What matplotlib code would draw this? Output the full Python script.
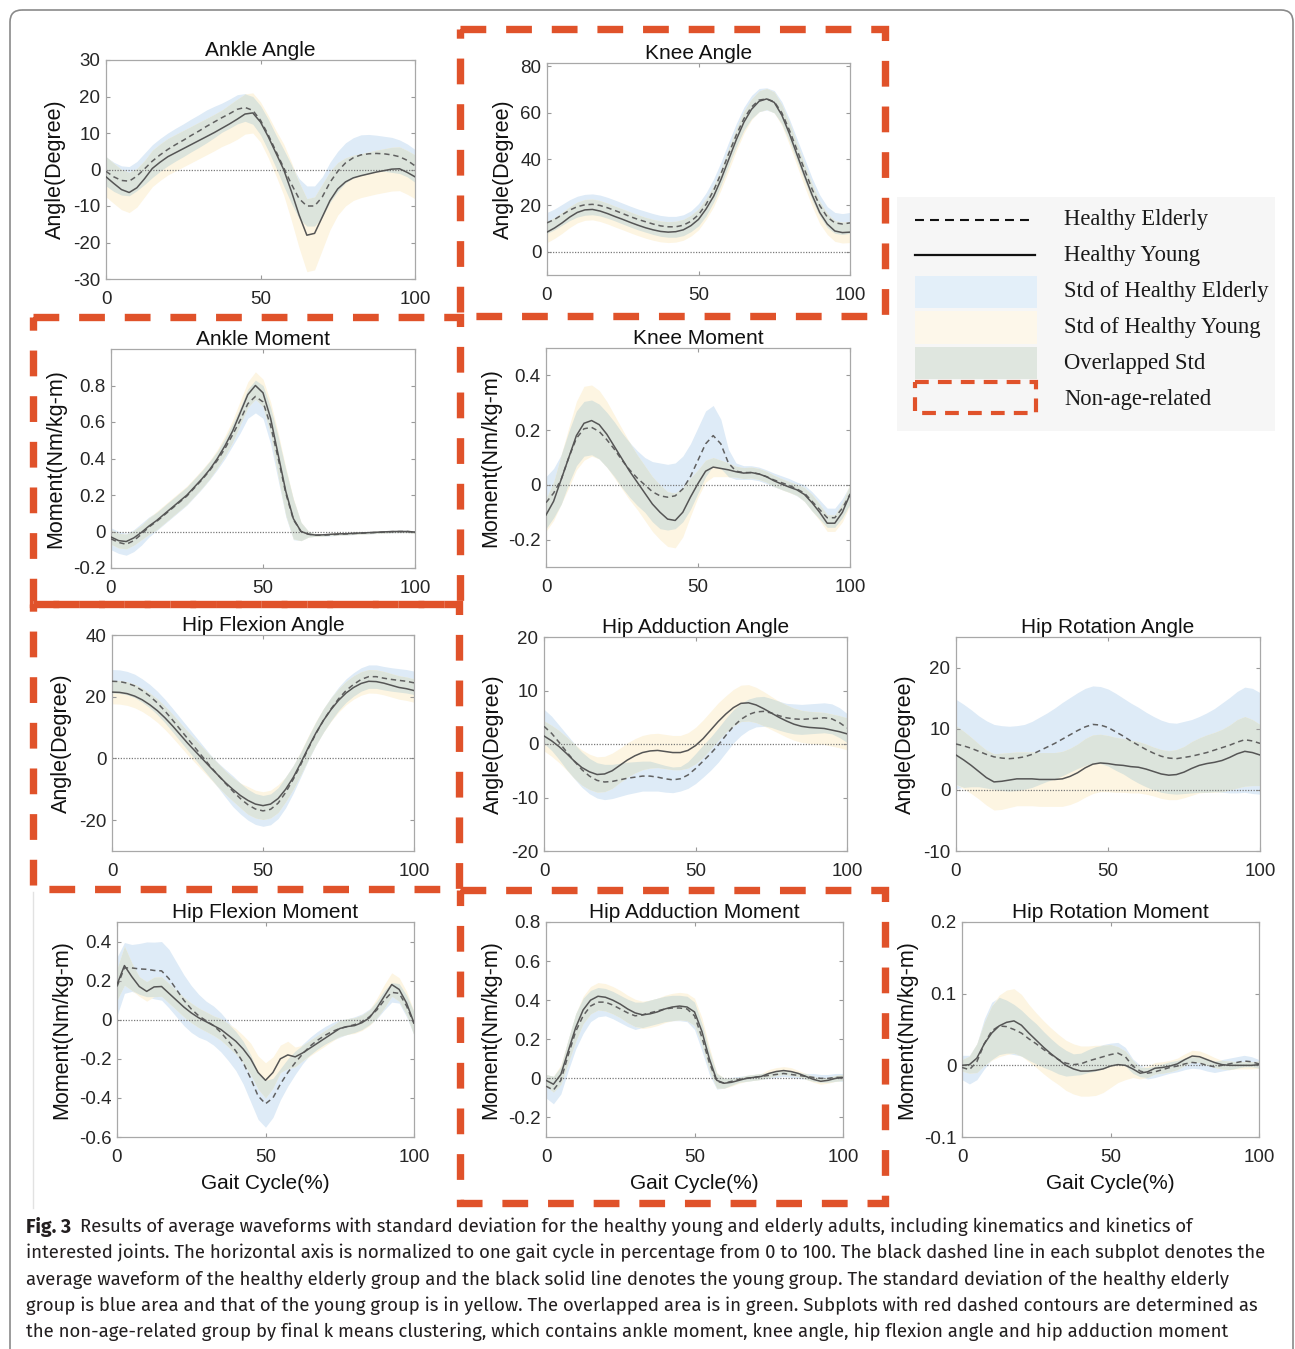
import numpy as np
import matplotlib
matplotlib.use('Agg')
import matplotlib.pyplot as plt
from matplotlib.patches import Rectangle, FancyBboxPatch
from matplotlib import font_manager as fm
from matplotlib.font_manager import FontProperties
from matplotlib.ft2font import FT2Font

# ---------------- data (gait cycle sampled every 2.5 %) ----------------
gait = np.linspace(0, 100, 41)

ankle_angle_elderly = [-0.5,-2.0,-3.0,-3.2,-1.8,0.2,2.3,4.0,5.5,6.8,8.0,9.3,10.5,11.8,13.0,14.2,15.3,16.5,17.0,16.2,13.5,9.5,5.0,0.5,-4.0,-8.0,-10.0,-10.0,-7.5,-3.5,-0.5,1.8,3.2,4.0,4.3,4.4,4.3,4.0,3.5,2.5,1.0]
ankle_angle_elderly_std = [4.0,4.0,4.0,4.0,4.0,4.3,4.5,4.5,4.5,4.5,4.5,4.5,4.5,4.5,4.3,4.0,4.0,4.0,3.8,3.8,4.0,4.3,4.5,5.0,5.3,5.5,5.5,5.5,5.5,5.5,5.5,5.5,5.5,5.5,5.3,5.0,4.8,4.8,4.6,4.5,4.5]
ankle_angle_young = [-2.0,-3.8,-5.5,-6.3,-5.0,-2.5,0.3,2.0,3.5,4.6,5.7,6.8,7.9,9.0,10.1,11.3,12.5,13.8,15.2,15.5,13.0,9.0,4.5,0.0,-6.0,-12.5,-18.0,-17.5,-13.0,-8.5,-5.3,-3.4,-2.3,-1.7,-1.2,-0.7,-0.3,0.1,0.2,-0.8,-2.0]
ankle_angle_young_std = [5.5,5.5,5.5,5.5,5.3,5.0,5.0,5.0,5.0,5.0,5.0,5.0,5.0,5.0,5.0,5.0,5.3,5.5,5.5,5.5,5.5,5.8,6.2,7.0,8.0,9.0,10.0,10.0,9.0,8.0,7.2,6.6,6.2,6.0,6.0,6.0,6.0,6.0,6.0,6.0,6.0]

knee_angle_elderly = [12.5,14.0,16.0,18.0,19.5,20.3,20.5,20.0,19.0,17.8,16.5,15.2,14.0,13.0,12.0,11.2,10.8,10.8,11.5,13.2,16.0,20.5,26.5,34.0,42.5,50.5,57.5,62.5,65.5,66.0,64.8,60.0,52.5,44.0,35.5,27.0,20.0,15.0,12.5,12.0,12.5]
knee_angle_elderly_std = [4.5,4.5,4.5,4.5,4.5,4.5,4.5,4.5,4.5,4.5,4.5,4.5,4.5,4.5,4.5,4.5,4.5,4.5,4.5,4.5,4.8,5.0,5.0,5.0,5.0,5.0,5.0,5.0,5.0,4.8,4.8,4.8,4.8,4.8,4.8,4.8,4.6,4.5,4.5,4.5,4.5]
knee_angle_young = [8.5,10.3,12.5,15.0,17.0,18.1,18.3,17.6,16.5,15.2,14.0,12.7,11.5,10.4,9.5,8.8,8.5,8.7,9.5,11.3,14.0,18.5,24.0,31.5,40.0,48.5,56.0,61.5,65.0,66.0,64.5,59.0,51.0,42.0,33.0,24.5,17.0,12.0,9.0,8.3,8.5]
knee_angle_young_std = [4.5,4.5,4.5,4.5,4.5,4.5,4.5,4.5,4.5,4.5,4.5,4.5,4.5,4.5,4.5,4.5,4.5,4.5,4.5,4.5,4.5,4.5,4.5,4.5,4.8,4.8,4.8,4.5,4.5,4.5,4.5,4.5,4.8,4.8,4.8,4.8,4.8,4.5,4.5,4.5,4.5]

ankle_moment_elderly = [-0.04,-0.06,-0.07,-0.05,-0.015,0.025,0.055,0.09,0.125,0.16,0.195,0.24,0.285,0.335,0.39,0.455,0.53,0.61,0.7,0.74,0.71,0.58,0.4,0.21,0.065,0.0,-0.015,-0.02,-0.02,-0.018,-0.015,-0.013,-0.011,-0.009,-0.007,-0.005,-0.003,-0.001,0.0,0.0,-0.003]
ankle_moment_elderly_std = [0.06,0.06,0.06,0.06,0.06,0.055,0.05,0.05,0.05,0.05,0.05,0.05,0.05,0.05,0.05,0.055,0.06,0.07,0.08,0.09,0.09,0.1,0.12,0.13,0.11,0.05,0.015,0.006,0.006,0.006,0.006,0.006,0.006,0.006,0.006,0.006,0.006,0.006,0.006,0.006,0.006]
ankle_moment_young = [-0.03,-0.05,-0.055,-0.035,-0.005,0.03,0.06,0.095,0.13,0.165,0.2,0.245,0.29,0.34,0.4,0.47,0.55,0.65,0.75,0.8,0.76,0.62,0.42,0.22,0.07,0.0,-0.015,-0.02,-0.018,-0.015,-0.013,-0.012,-0.01,-0.008,-0.006,-0.004,-0.002,0.0,0.0,0.0,-0.003]
ankle_moment_young_std = [0.04,0.04,0.04,0.04,0.04,0.045,0.05,0.05,0.05,0.05,0.05,0.05,0.05,0.05,0.05,0.055,0.06,0.065,0.07,0.075,0.075,0.09,0.12,0.13,0.11,0.05,0.015,0.006,0.006,0.006,0.006,0.006,0.006,0.006,0.006,0.006,0.006,0.006,0.006,0.006,0.006]

knee_moment_elderly = [-0.065,-0.03,0.02,0.1,0.17,0.205,0.21,0.195,0.165,0.13,0.09,0.055,0.025,0.0,-0.025,-0.04,-0.045,-0.04,-0.015,0.03,0.09,0.15,0.18,0.15,0.08,0.05,0.045,0.045,0.04,0.03,0.018,0.008,-0.002,-0.015,-0.03,-0.06,-0.09,-0.12,-0.12,-0.085,-0.035]
knee_moment_elderly_std = [0.095,0.09,0.09,0.095,0.1,0.1,0.1,0.1,0.1,0.1,0.1,0.1,0.1,0.1,0.11,0.12,0.12,0.12,0.12,0.12,0.12,0.12,0.11,0.09,0.05,0.03,0.025,0.025,0.025,0.025,0.025,0.025,0.025,0.025,0.03,0.035,0.035,0.035,0.035,0.035,0.035]
knee_moment_young = [-0.11,-0.06,0.02,0.1,0.18,0.225,0.235,0.22,0.185,0.14,0.095,0.05,0.01,-0.03,-0.07,-0.1,-0.125,-0.13,-0.1,-0.045,0.005,0.05,0.065,0.06,0.055,0.048,0.043,0.045,0.04,0.03,0.015,0.003,-0.008,-0.018,-0.035,-0.065,-0.1,-0.14,-0.14,-0.1,-0.035]
knee_moment_young_std = [0.06,0.07,0.09,0.11,0.125,0.135,0.13,0.125,0.12,0.115,0.11,0.105,0.1,0.1,0.1,0.1,0.1,0.1,0.09,0.07,0.05,0.04,0.035,0.03,0.025,0.02,0.02,0.02,0.02,0.02,0.02,0.02,0.02,0.02,0.025,0.03,0.03,0.03,0.03,0.035,0.04]

hip_flex_angle_elderly = [25.0,24.9,24.4,23.5,22.0,20.2,18.0,15.4,12.5,9.5,6.5,3.5,0.5,-2.5,-5.3,-8.0,-10.6,-13.0,-15.0,-16.4,-17.0,-16.5,-14.5,-11.0,-6.8,-2.0,3.2,8.0,12.3,16.0,19.3,22.0,24.0,25.6,26.5,26.5,26.0,25.6,25.3,25.0,24.5]
hip_flex_angle_elderly_std = [3.8,3.8,3.8,3.8,3.8,3.8,3.8,3.8,3.8,3.8,3.8,3.8,3.8,3.8,4.0,4.5,5.0,5.0,5.0,5.0,5.0,5.0,5.0,5.0,4.5,4.0,3.8,3.8,3.8,3.8,3.8,3.8,3.8,3.8,3.8,3.8,3.8,3.8,3.8,3.8,3.8]
hip_flex_angle_young = [21.5,21.4,21.0,20.2,19.0,17.4,15.5,13.2,10.6,7.8,5.0,2.4,-0.2,-2.8,-5.3,-7.8,-10.0,-12.0,-13.6,-14.8,-15.3,-14.8,-13.0,-10.0,-6.2,-1.5,3.5,8.2,12.3,15.8,18.8,21.2,23.0,24.3,25.0,24.9,24.4,23.7,23.0,22.6,22.0]
hip_flex_angle_young_std = [3.8,3.8,3.8,3.8,3.8,3.8,3.8,3.8,3.8,3.8,3.8,3.8,3.8,3.8,3.8,3.8,3.8,4.0,4.5,4.5,4.5,4.5,4.5,4.0,3.8,3.8,3.8,3.8,3.8,3.8,3.8,3.8,3.8,3.8,3.8,3.8,3.8,3.8,3.8,3.8,3.8]

hip_add_angle_elderly = [3.3,2.0,0.3,-1.5,-3.2,-4.8,-6.0,-6.8,-7.1,-7.0,-6.7,-6.4,-6.2,-6.0,-6.0,-6.2,-6.5,-6.7,-6.5,-5.8,-4.6,-3.2,-1.8,-0.2,1.6,3.3,4.6,5.5,6.0,6.1,5.8,5.3,4.9,4.7,4.6,4.7,4.8,4.9,4.7,4.0,3.0]
hip_add_angle_elderly_std = [3.2,3.2,3.2,3.3,3.3,3.3,3.3,3.3,3.3,3.2,3.1,3.0,2.9,2.8,2.8,2.6,2.5,2.4,2.3,2.5,2.8,3.0,3.1,3.2,3.2,3.1,3.0,2.9,2.8,2.8,2.7,2.7,2.7,2.8,2.8,2.8,2.8,2.8,2.8,2.8,2.7]
hip_add_angle_young = [1.5,0.6,-0.5,-1.8,-3.2,-4.4,-5.2,-5.7,-5.6,-5.0,-4.0,-3.0,-2.2,-1.6,-1.3,-1.2,-1.4,-1.6,-1.6,-1.2,-0.3,1.0,2.6,4.2,5.6,6.8,7.6,7.7,7.3,6.6,5.8,5.0,4.3,3.7,3.3,3.1,3.0,2.9,2.6,2.3,1.9]
hip_add_angle_young_std = [2.8,2.9,3.0,3.1,3.2,3.3,3.3,3.3,3.3,3.3,3.2,3.2,3.2,3.2,3.2,3.2,3.2,3.2,3.2,3.3,3.4,3.5,3.5,3.5,3.4,3.4,3.4,3.4,3.3,3.2,3.1,3.0,3.0,3.0,3.0,3.0,3.0,3.0,3.0,3.0,3.0]

hip_rot_angle_elderly = [7.5,7.2,6.8,6.3,5.8,5.4,5.2,5.1,5.2,5.4,5.8,6.4,7.0,7.6,8.3,9.0,9.7,10.3,10.7,10.6,10.2,9.5,8.8,8.0,7.3,6.6,6.0,5.5,5.2,5.1,5.3,5.5,5.8,6.1,6.5,6.9,7.3,7.8,8.2,8.0,7.6]
hip_rot_angle_elderly_std = [7.3,6.8,6.3,5.8,5.5,5.3,5.3,5.3,5.3,5.3,5.4,5.5,5.6,5.8,6.0,6.1,6.2,6.3,6.3,6.3,6.3,6.3,6.2,6.2,6.2,6.1,6.0,5.9,5.8,5.8,5.9,6.0,6.2,6.5,6.8,7.3,7.8,8.3,8.6,8.6,8.3]
hip_rot_angle_young = [5.7,4.9,4.0,3.0,2.0,1.3,1.4,1.6,1.8,1.8,1.8,1.7,1.7,1.7,1.8,2.2,2.8,3.6,4.2,4.4,4.3,4.1,4.0,3.8,3.7,3.4,3.0,2.6,2.4,2.5,2.9,3.5,4.0,4.3,4.5,4.8,5.3,5.9,6.3,6.1,5.7]
hip_rot_angle_young_std = [4.8,4.7,4.6,4.5,4.5,4.6,4.6,4.5,4.4,4.4,4.4,4.4,4.4,4.4,4.5,4.6,4.7,4.8,4.8,4.7,4.6,4.5,4.4,4.3,4.2,4.1,4.0,4.0,4.0,4.1,4.2,4.4,4.5,4.7,4.9,5.1,5.3,5.6,5.7,5.4,5.0]

hip_flex_moment_elderly = [0.17,0.265,0.265,0.26,0.258,0.252,0.25,0.21,0.155,0.1,0.055,0.02,-0.005,-0.03,-0.065,-0.11,-0.16,-0.22,-0.3,-0.39,-0.43,-0.4,-0.33,-0.27,-0.22,-0.175,-0.135,-0.105,-0.08,-0.06,-0.045,-0.035,-0.025,-0.01,0.015,0.05,0.1,0.14,0.135,0.07,-0.02]
hip_flex_moment_elderly_std = [0.15,0.13,0.12,0.13,0.14,0.145,0.15,0.15,0.14,0.13,0.12,0.11,0.1,0.1,0.1,0.1,0.1,0.11,0.12,0.12,0.12,0.1,0.08,0.07,0.06,0.05,0.045,0.045,0.045,0.045,0.045,0.04,0.04,0.04,0.04,0.045,0.05,0.05,0.05,0.055,0.06]
hip_flex_moment_young = [0.18,0.277,0.22,0.17,0.145,0.168,0.17,0.135,0.1,0.065,0.035,0.01,-0.01,-0.03,-0.05,-0.08,-0.11,-0.15,-0.2,-0.27,-0.31,-0.27,-0.2,-0.18,-0.19,-0.17,-0.145,-0.12,-0.095,-0.07,-0.045,-0.035,-0.03,-0.015,0.01,0.06,0.12,0.18,0.155,0.085,-0.017]
hip_flex_moment_young_std = [0.08,0.1,0.07,0.05,0.05,0.05,0.05,0.05,0.05,0.05,0.05,0.05,0.05,0.05,0.055,0.06,0.065,0.07,0.08,0.085,0.09,0.08,0.07,0.07,0.05,0.04,0.04,0.04,0.04,0.04,0.04,0.04,0.04,0.04,0.04,0.05,0.06,0.06,0.06,0.06,0.06]

hip_add_moment_elderly = [-0.04,-0.06,-0.01,0.12,0.24,0.32,0.37,0.39,0.39,0.375,0.355,0.335,0.32,0.325,0.335,0.345,0.355,0.36,0.36,0.355,0.32,0.21,0.08,-0.015,-0.025,-0.015,-0.005,0.0,0.005,0.01,0.015,0.02,0.025,0.02,0.015,0.01,0.005,0.0,0.0,0.005,0.005]
hip_add_moment_elderly_std = [0.06,0.07,0.07,0.08,0.09,0.09,0.08,0.075,0.07,0.07,0.07,0.07,0.07,0.065,0.065,0.065,0.065,0.065,0.065,0.065,0.07,0.07,0.06,0.04,0.025,0.02,0.015,0.015,0.015,0.015,0.015,0.015,0.015,0.015,0.015,0.015,0.02,0.02,0.02,0.02,0.02]
hip_add_moment_young = [-0.01,-0.03,0.02,0.14,0.26,0.35,0.4,0.42,0.415,0.4,0.38,0.355,0.335,0.325,0.33,0.34,0.355,0.365,0.37,0.365,0.34,0.24,0.1,-0.01,-0.025,-0.02,-0.01,0.0,0.005,0.01,0.025,0.035,0.04,0.035,0.025,0.01,-0.005,-0.015,-0.01,0.0,0.005]
hip_add_moment_young_std = [0.03,0.04,0.05,0.06,0.07,0.07,0.07,0.07,0.07,0.07,0.07,0.07,0.07,0.07,0.07,0.07,0.07,0.07,0.07,0.07,0.07,0.07,0.06,0.04,0.025,0.02,0.015,0.015,0.015,0.015,0.02,0.02,0.02,0.02,0.015,0.015,0.015,0.015,0.015,0.015,0.015]

hip_rot_moment_elderly = [-0.003,-0.006,0.005,0.03,0.048,0.055,0.054,0.05,0.045,0.037,0.03,0.022,0.015,0.008,0.003,0.001,0.002,0.006,0.009,0.012,0.015,0.017,0.012,-0.001,-0.008,-0.011,-0.009,-0.006,-0.003,-0.001,0.002,0.004,0.003,0.0,-0.002,0.0,0.002,0.004,0.006,0.005,0.002]
hip_rot_moment_elderly_std = [0.017,0.02,0.025,0.035,0.04,0.04,0.037,0.035,0.032,0.03,0.028,0.025,0.022,0.02,0.018,0.015,0.015,0.016,0.017,0.017,0.016,0.015,0.013,0.01,0.008,0.008,0.008,0.008,0.008,0.008,0.008,0.008,0.008,0.008,0.008,0.008,0.008,0.008,0.008,0.007,0.006]
hip_rot_moment_young = [0.0,0.001,0.01,0.03,0.045,0.055,0.06,0.062,0.056,0.045,0.035,0.025,0.016,0.008,0.0,-0.005,-0.008,-0.008,-0.007,-0.005,-0.001,0.001,0.0,-0.005,-0.011,-0.009,-0.004,-0.003,-0.001,0.002,0.008,0.013,0.012,0.008,0.004,0.001,0.0,0.0,0.0,0.0,0.001]
hip_rot_moment_young_std = [0.008,0.012,0.02,0.03,0.038,0.043,0.045,0.045,0.043,0.04,0.038,0.037,0.036,0.035,0.035,0.035,0.035,0.035,0.035,0.033,0.03,0.025,0.02,0.012,0.008,0.008,0.008,0.008,0.008,0.008,0.008,0.008,0.008,0.008,0.007,0.006,0.006,0.005,0.005,0.005,0.005]

titles = ["Ankle Angle", "Knee Angle", "Ankle Moment", "Knee Moment",
          "Hip Flexion Angle", "Hip Adduction Angle", "Hip Rotation Angle",
          "Hip Flexion Moment", "Hip Adduction Moment", "Hip Rotation Moment"]
legend_labels = ["Healthy Elderly", "Healthy Young", "Std of Healthy Elderly",
                 "Std of Healthy Young", "Overlapped Std", "Non-age-related"]
caption_bold = "Fig. 3"
caption_lines = [
    "Results of average waveforms with standard deviation for the healthy young and elderly adults, including kinematics and kinetics of",
    "interested joints. The horizontal axis is normalized to one gait cycle in percentage from 0 to 100. The black dashed line in each subplot denotes the",
    "average waveform of the healthy elderly group and the black solid line denotes the young group. The standard deviation of the healthy elderly",
    "group is blue area and that of the young group is in yellow. The overlapped area is in green. Subplots with red dashed contours are determined as",
    "the non-age-related group by final k means clustering, which contains ankle moment, knee angle, hip flexion angle and hip adduction moment",
]

# ---------------- style ----------------
W, H = 1295, 1349
plt.rcParams['axes.unicode_minus'] = False
plt.rcParams['font.family'] = ['Liberation Sans', 'DejaVu Sans']
BLUE, YELLOW, GREEN = '#deebf7', '#fdf5e2', '#dce4dc'
RED = '#e0522a'
LINE_E, LINE_Y = '#606060', '#555555'

fig = plt.figure(figsize=(W / 100, H / 100), dpi=100)
fig.patch.set_facecolor('white')

# overlay in pixel coordinates for decorations
ov = fig.add_axes([0, 0, 1, 1], zorder=0)
ov.set_xlim(0, W)
ov.set_ylim(H, 0)
ov.axis('off')

ov.add_patch(FancyBboxPatch((10, 10), 1283, 1380, boxstyle="round,pad=0,rounding_size=12",
                            fc='none', ec='#8a8a8a', lw=1.2))
ov.plot([33, 33], [892, 1208], color='#e2e2e2', lw=1)


def add_ax(l, t, r, b):
    return fig.add_axes([l / W, 1 - b / H, (r - l) / W, (b - t) / H], zorder=2)


def fmt(v):
    if abs(v) < 1e-9:
        return '0'
    return ('%.1f' % v) if abs(v - round(v)) > 1e-9 else '%d' % round(v)


panels = [
    (titles[0], 'Angle(Degree)', ankle_angle_elderly, ankle_angle_elderly_std, ankle_angle_young, ankle_angle_young_std,
     (-30, 30), [-30, -20, -10, 0, 10, 20, 30], (106, 60, 415, 279), False),
    (titles[1], 'Angle(Degree)', knee_angle_elderly, knee_angle_elderly_std, knee_angle_young, knee_angle_young_std,
     (-10, 81.5), [0, 20, 40, 60, 80], (547, 63, 850, 275), False),
    (titles[2], 'Moment(Nm/kg-m)', ankle_moment_elderly, ankle_moment_elderly_std, ankle_moment_young, ankle_moment_young_std,
     (-0.2, 1.0), [-0.2, 0, 0.2, 0.4, 0.6, 0.8], (111, 349, 415, 568), False),
    (titles[3], 'Moment(Nm/kg-m)', knee_moment_elderly, knee_moment_elderly_std, knee_moment_young, knee_moment_young_std,
     (-0.3, 0.5), [-0.2, 0, 0.2, 0.4], (546, 348, 850, 567), False),
    (titles[4], 'Angle(Degree)', hip_flex_angle_elderly, hip_flex_angle_elderly_std, hip_flex_angle_young, hip_flex_angle_young_std,
     (-30, 40), [-20, 0, 20, 40], (112, 635, 414, 851), False),
    (titles[5], 'Angle(Degree)', hip_add_angle_elderly, hip_add_angle_elderly_std, hip_add_angle_young, hip_add_angle_young_std,
     (-20, 20), [-20, -10, 0, 10, 20], (544, 637, 847, 851), False),
    (titles[6], 'Angle(Degree)', hip_rot_angle_elderly, hip_rot_angle_elderly_std, hip_rot_angle_young, hip_rot_angle_young_std,
     (-10, 25), [-10, 0, 10, 20], (956, 637, 1260, 851), False),
    (titles[7], 'Moment(Nm/kg-m)', hip_flex_moment_elderly, hip_flex_moment_elderly_std, hip_flex_moment_young, hip_flex_moment_young_std,
     (-0.6, 0.5), [-0.6, -0.4, -0.2, 0, 0.2, 0.4], (117, 922, 414, 1137), True),
    (titles[8], 'Moment(Nm/kg-m)', hip_add_moment_elderly, hip_add_moment_elderly_std, hip_add_moment_young, hip_add_moment_young_std,
     (-0.3, 0.8), [-0.2, 0, 0.2, 0.4, 0.6, 0.8], (546, 922, 843, 1137), True),
    (titles[9], 'Moment(Nm/kg-m)', hip_rot_moment_elderly, hip_rot_moment_elderly_std, hip_rot_moment_young, hip_rot_moment_young_std,
     (-0.1, 0.2), [-0.1, 0, 0.1, 0.2], (962, 922, 1259, 1137), True),
]

for title, ylab, E, Es, Y, Ys, ylim, yticks, box, xl in panels:
    for arr in (E, Es, Y, Ys):
        assert len(arr) == len(gait), title
    E, Es, Y, Ys = map(np.asarray, (E, Es, Y, Ys))
    ax = add_ax(*box)
    eu, el = E + Es, E - Es
    yu, yl = Y + Ys, Y - Ys
    ax.fill_between(gait, el, eu, color=BLUE, lw=0, zorder=1)
    ax.fill_between(gait, yl, yu, color=YELLOW, lw=0, zorder=1)
    lo = np.maximum(el, yl)
    hi = np.minimum(eu, yu)
    ax.fill_between(gait, lo, hi, where=hi > lo, interpolate=True, color=GREEN, lw=0, zorder=1.5)
    ax.axhline(0, color='#7a7a7a', lw=0.9, ls=(0, (1, 1.2)), zorder=2)
    ax.plot(gait, E, color=LINE_E, lw=1.1, ls=(0, (3.5, 2.5)), zorder=3)
    ax.plot(gait, Y, color=LINE_Y, lw=1.1, zorder=3)
    ax.set_xlim(0, 100)
    ax.set_ylim(*ylim)
    ax.set_xticks([0, 50, 100])
    ax.set_xticklabels(['0', '50', '100'])
    ax.set_yticks(yticks)
    ax.set_yticklabels([fmt(v) for v in yticks])
    ax.tick_params(direction='in', length=3, width=0.8, color='#9a9a9a',
                   top=True, right=True, labelsize=13.5, labelcolor='#262626')
    ax.tick_params(axis='x', pad=8.5)
    ax.tick_params(axis='y', pad=4)
    for s in ax.spines.values():
        s.set_color('#a8a8a8')
        s.set_linewidth(0.9)
    ax.set_title(title, fontsize=15, pad=3, color='#111111')
    ax.set_ylabel(ylab, fontsize=15.5, color='#111111', labelpad=5)
    if xl:
        ax.set_xlabel('Gait Cycle(%)', fontsize=15, color='#111111', labelpad=6)

# ---------------- red dashed contours ----------------
red_lw = 5.3
red_ls = (0, (3.5, 2.7))
for (x0, y0, x1, y1) in [(460, 29, 885, 316), (33, 317, 460, 604), (33, 604, 459, 889), (460, 890, 885, 1203)]:
    ov.add_patch(Rectangle((x0, y0), x1 - x0, y1 - y0, fc='none', ec=RED, lw=red_lw, ls=red_ls,
                           joinstyle='miter', capstyle='butt'))

# ---------------- legend ----------------
ov.add_patch(Rectangle((897, 197), 378, 234, fc='#f6f6f6', ec='none'))
ov.plot([915, 1035], [220, 220], color='#111111', lw=1.5, ls=(0, (4.3, 2.9)))
ov.plot([915, 1035], [255, 255], color='#111111', lw=1.6)
ov.add_patch(Rectangle((915, 276), 122, 32, fc='#e3eff9', ec='none'))
ov.add_patch(Rectangle((915, 311), 122, 33, fc='#fdf7ea', ec='none'))
ov.add_patch(Rectangle((915, 347), 122, 32, fc='#dfe6df', ec='none'))
ov.add_patch(Rectangle((915, 382), 121, 31, fc='none', ec=RED, lw=3.0, ls=(0, (3.3, 2.2))))
for lab, yc in zip(legend_labels, [220, 256, 292, 328, 363, 399]):
    ov.text(1064, yc, lab, fontsize=16.3, family=['Liberation Serif', 'DejaVu Serif'],
            color='#1a1a1a', va='center', ha='left')

# ---------------- caption: pick the sans face whose fitted size gives the right letter height ----------------
renderer = fig.canvas.get_renderer()
TARGET_W = 1262 - 26       # width of the longest caption line in the reference
TARGET_CAP = 13.0          # cap height of the caption text in pixels


def weight_num(w):
    try:
        return int(w)
    except Exception:
        return {'bold': 700, 'normal': 400, 'regular': 400, 'light': 300}.get(str(w).lower(), 400)


want = ('Sans', 'Roboto', 'Lato', 'Inter', 'Narrow', 'Condensed')
skip = ('Mono', 'Serif', 'CJK', 'Math', 'STIX', 'Display', 'Symbol')
regulars, bolds = {}, {}
for f in fm.fontManager.ttflist:
    if f.style != 'normal' or any(k in f.name for k in skip) or not any(k in f.name for k in want):
        continue
    key = (f.name, f.stretch)
    w = weight_num(f.weight)
    if 370 <= w <= 450:
        regulars.setdefault(key, f.fname)
    elif 600 <= w <= 750:
        bolds.setdefault(key, (w, f.fname))

best = None
for key, path in regulars.items():
    try:
        fp = FontProperties(fname=path)
        t = ov.text(0, 0, caption_lines[1], fontproperties=fp, fontsize=10)
        wpx = t.get_window_extent(renderer).width
        t.remove()
        ft = FT2Font(path)
        os2 = ft.get_sfnt_table('OS/2')
        cap = os2.get('sCapHeight', 0) if os2 else 0
        if not cap:
            cap = 0.7 * ft.units_per_EM
        size = 10 * TARGET_W / wpx
        cap_px = size * 100 / 72 * cap / ft.units_per_EM
        score = abs(cap_px - TARGET_CAP)
        if best is None or score < best[0]:
            best = (score, key, path, size)
    except Exception:
        continue

fp_bold = None
if best is not None:
    _, key, path, cap_size = best
    fp_reg = FontProperties(fname=path)
    if key in bolds:
        fp_bold = FontProperties(fname=bolds[key][1])
    else:
        same = [v for k, v in bolds.items() if k[0] == key[0]]
        if same:
            fp_bold = FontProperties(fname=sorted(same)[-1][1])
else:
    fp_reg = FontProperties(family='Liberation Sans')
    cap_size = 12
if fp_bold is None:
    fp_bold = FontProperties(family=['Liberation Sans Narrow', 'Liberation Sans'], weight='bold')

cap_color = '#231f20'
ys_cap = [1227, 1253, 1280, 1306, 1332]
tb = ov.text(26, ys_cap[0], caption_bold, fontproperties=fp_bold, fontsize=cap_size * 1.05, va='center',
             color=cap_color)
bw = tb.get_window_extent(renderer).width
ov.text(26 + bw + 9, ys_cap[0], caption_lines[0], fontproperties=fp_reg, fontsize=cap_size, va='center',
        color=cap_color)
for line, yc in zip(caption_lines[1:], ys_cap[1:]):
    ov.text(26, yc, line, fontproperties=fp_reg, fontsize=cap_size, va='center', color=cap_color)

fig.savefig('out.png', dpi=100)
